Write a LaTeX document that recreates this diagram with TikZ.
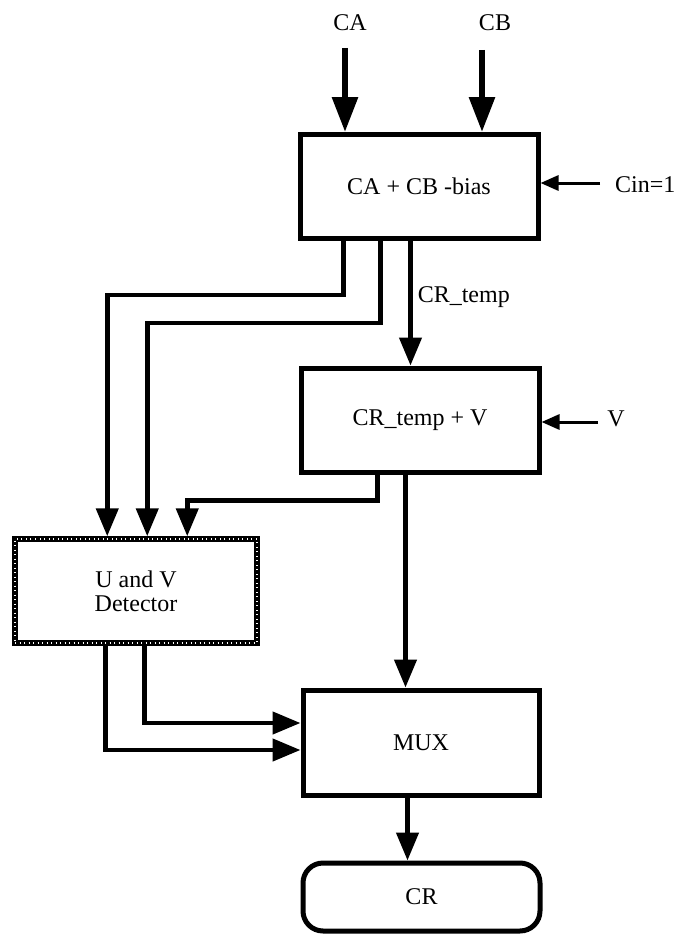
\documentclass[tikz,border=0pt]{standalone}
\usepackage{fontspec}
\setmainfont{Liberation Serif}
\usetikzlibrary{arrows.meta,calc}
\begin{document}
\begin{tikzpicture}[x=1pt,y=-1pt,
  every node/.style={font=\fontsize{24}{24}\selectfont, inner sep=0pt},
  blockbox/.style={draw=black, line width=5pt, rectangle, minimum width=238pt, minimum height=104pt, align=center},
  detbox/.style={rectangle, minimum width=242pt, minimum height=104pt, align=center,
     draw=black, line width=5.5pt,
     postaction={draw=white, line width=1.2pt, dash pattern=on 1pt off 3.5pt}},
  termbox/.style={draw=black, line width=5pt, rectangle, rounded corners=20pt, minimum width=237pt, minimum height=68pt},
  inarrow/.style={line width=6pt, -{Triangle[length=35pt,width=25pt]}},
  bigarrow/.style={line width=4.5pt, -{Triangle[length=28pt,width=22pt]}},
  smallarrow/.style={line width=3pt, -{Triangle[length=18pt,width=15pt]}}
]
\useasboundingbox (0,0) rectangle (675,934);
\fill[white] (0,0) rectangle (675,934);

% blocks
\node[blockbox] (add1) at (419,186.5) {CA + CB -bias};
\node[blockbox] (add2) at (420,420) {CR\_temp + V};
\node[detbox] (det) at (136,591) {U and V\\Detector};
\node[blockbox, minimum width=236pt, minimum height=105pt] (mux) at (421,742.5) {MUX};
\node[termbox] (cr) at (421.5,897) {CR};

% inputs
\node (ca) at (350,23) {CA};
\node (cb) at (495,23) {CB};
\coordinate (caS) at (345,48);
\coordinate (cbS) at (482,50);
\draw[inarrow] (caS) -- (caS |- add1.north);
\draw[inarrow] (cbS) -- (cbS |- add1.north);

\node[anchor=west] (cin) at (615,185) {Cin=1};
\coordinate (cinS) at (600,183);
\draw[smallarrow] (cinS) -- (cinS -| add1.east);

\node (v) at (616,419) {V};
\coordinate (vS) at (598,422);
\draw[smallarrow] (vS) -- (vS -| add2.east);

% add1 outputs
\draw[bigarrow] ($(add1.south west)+(46,0)$) -- ++(0,54) -| ($(det.north west)+(95,0)$);
\draw[bigarrow] ($(add1.south west)+(83,0)$) -- ++(0,82) -| ($(det.north west)+(135,0)$);
\coordinate (crt) at ($(add1.south west)+(113,0)$);
\draw[bigarrow] (crt) -- node[pos=0.45, anchor=west, xshift=5pt] (crtl) {CR\_temp} (crt |- add2.north);

% add2 outputs
\draw[bigarrow] ($(add2.south west)+(79,0)$) -- ++(0,26) -| ($(det.north west)+(175,0)$);
\coordinate (m1) at ($(add2.south west)+(107,0)$);
\draw[bigarrow] (m1) -- (m1 |- mux.north);

% detector outputs
\draw[bigarrow] ($(det.south west)+(132,0)$) |- ($(mux.west)+(0,-19.5)$);
\draw[bigarrow] ($(det.south west)+(93,0)$) |- ($(mux.west)+(0,7.5)$);

% mux to CR
\coordinate (m2) at ($(mux.south west)+(107,0)$);
\draw[bigarrow] (m2) -- (m2 |- cr.north);
\end{tikzpicture}
\end{document}
